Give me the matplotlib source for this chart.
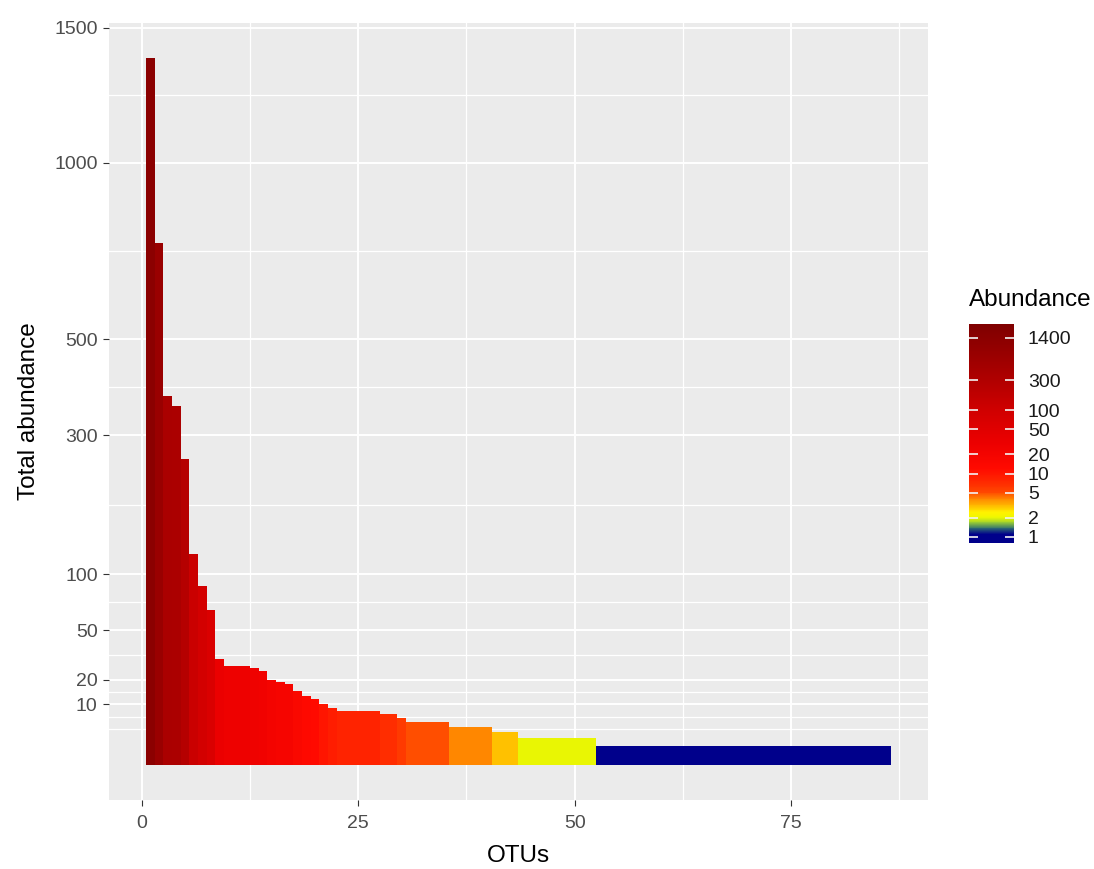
import numpy as np
import matplotlib
matplotlib.use('Agg')
import matplotlib.pyplot as plt
from matplotlib.colors import LogNorm, LinearSegmentedColormap
from matplotlib.cm import ScalarMappable
from matplotlib.ticker import NullLocator, FixedLocator

plt.rcParams['font.family'] = ['Liberation Sans', 'DejaVu Sans']

# ---------- data ---------- #
otu_rank = np.arange(1, 87)
abundance = [1379, 751, 376, 356, 258, 123, 88, 66, 31, 27,
             27, 27, 26, 24, 20, 19, 18, 15, 13, 12,
             10, 9, 8, 8, 8, 8, 8, 7, 7, 6,
             5, 5, 5, 5, 5, 4, 4, 4, 4, 4,
             3, 3, 3, 2, 2, 2, 2, 2, 2, 2,
             2, 2, 1, 1, 1, 1, 1, 1, 1, 1,
             1, 1, 1, 1, 1, 1, 1, 1, 1, 1,
             1, 1, 1, 1, 1, 1, 1, 1, 1, 1,
             1, 1, 1, 1, 1, 1]

y_breaks = [10, 20, 50, 100, 300, 500, 1000, 1500]
x_breaks = [0, 25, 50, 75]
fill_breaks = [1, 2, 5, 10, 20, 50, 100, 300, 1400]

# ---------- colour scale (log) ---------- #
norm = LogNorm(vmin=0.8, vmax=2300)
anchors = [(0.8, '#00008B'), (1.1, '#00008B'), (1.35, '#2F6F73'), (1.65, '#9ACD32'),
           (2.0, '#EEF800'), (2.4, '#FFF200'), (3.0, '#FFBF00'), (4.0, '#FF8400'),
           (5.0, '#FF4800'), (7.0, '#FF2C00'), (12, '#FF0A00'), (30, '#EC0000'),
           (100, '#D00000'), (350, '#AC0000'), (2300, '#7F0000')]
pos = [float(norm(v)) for v, _ in anchors]
pos[0], pos[-1] = 0.0, 1.0
cmap = LinearSegmentedColormap.from_list('abund', list(zip(pos, [c for _, c in anchors])))
bar_colors = cmap(norm(np.array(abundance, dtype=float)))

# ---------- sqrt y scale ---------- #
def fwd(v):
    v = np.asarray(v, dtype=float)
    return np.sign(v) * np.sqrt(np.abs(v))

def inv(v):
    v = np.asarray(v, dtype=float)
    return np.sign(v) * v ** 2

W, H = 1094, 869
fig = plt.figure(figsize=(W / 100, H / 100), dpi=100)
ax = fig.add_axes([108.8 / W, 1 - 800 / H, (928 - 108.8) / W, (800 - 22.6) / H])
ax.set_facecolor('#EBEBEB')
ax.set_yscale('function', functions=(fwd, inv))

ax.bar(otu_rank, abundance, width=1.0, color=bar_colors, linewidth=0,
       antialiased=False, zorder=3)

# limits with 5% expansion like ggplot
xlo, xhi = 0.5, len(otu_rank) + 0.5
xr = xhi - xlo
ax.set_xlim(xlo - 0.05 * xr, xhi + 0.05 * xr)
smax = np.sqrt(max(abundance))
ax.set_ylim(inv(-0.05 * smax), inv(1.05 * smax))

# major / minor breaks
ax.yaxis.set_major_locator(FixedLocator(y_breaks))
ax.set_yticklabels([str(b) for b in y_breaks])
ax.xaxis.set_major_locator(FixedLocator(x_breaks))
ax.set_xticklabels([str(b) for b in x_breaks])

# minor breaks: midpoints in sqrt space, extended one step outside
sb = np.sqrt(y_breaks)
bd = sb[1] - sb[0]
ext = np.concatenate([[sb[0] - bd], sb, [sb[-1] + bd]])
ymin_s = np.concatenate([np.linspace(a, b, 3)[:-1] for a, b in zip(ext[:-1], ext[1:])] + [[ext[-1]]])
ymin_s = ymin_s[ymin_s > 0]
ax.yaxis.set_minor_locator(FixedLocator(list(inv(ymin_s))))
xm = [-12.5, 12.5, 37.5, 62.5, 87.5]
ax.xaxis.set_minor_locator(FixedLocator(xm))

ax.grid(which='major', color='white', linewidth=1.4, zorder=0)
ax.grid(which='minor', color='white', linewidth=0.9, zorder=0)
ax.set_axisbelow(True)
for s in ax.spines.values():
    s.set_visible(False)
ax.tick_params(which='major', length=4.5, width=0.8, color='#333333',
               labelsize=14, labelcolor='#4D4D4D', pad=3.5)
ax.tick_params(axis='x', which='major', pad=6)
ax.tick_params(which='minor', length=0)

ax.set_xlabel('OTUs', fontsize=17.5, color='black', labelpad=10)
ax.set_ylabel('Total abundance', fontsize=17.5, color='black', labelpad=10)

# ---------- colour bar ---------- #
cax = fig.add_axes([969 / W, 1 - 543 / H, 45 / W, 219 / H])
sm = ScalarMappable(norm=norm, cmap=cmap)
cb = fig.colorbar(sm, cax=cax)
cb.outline.set_visible(False)
cb.set_ticks(fill_breaks)
cb.set_ticklabels([str(b) for b in fill_breaks])
cax.yaxis.set_minor_locator(NullLocator())
cax.tick_params(which='major', direction='in', length=6.5, width=1.2, color='#F2F2F2',
                left=True, right=True, labelsize=14, labelcolor='#1A1A1A', pad=10)
fig.text(969 / W, 1 - 300 / H, 'Abundance', fontsize=17.5, ha='left', va='center')

fig.savefig('out.png', dpi=100)
